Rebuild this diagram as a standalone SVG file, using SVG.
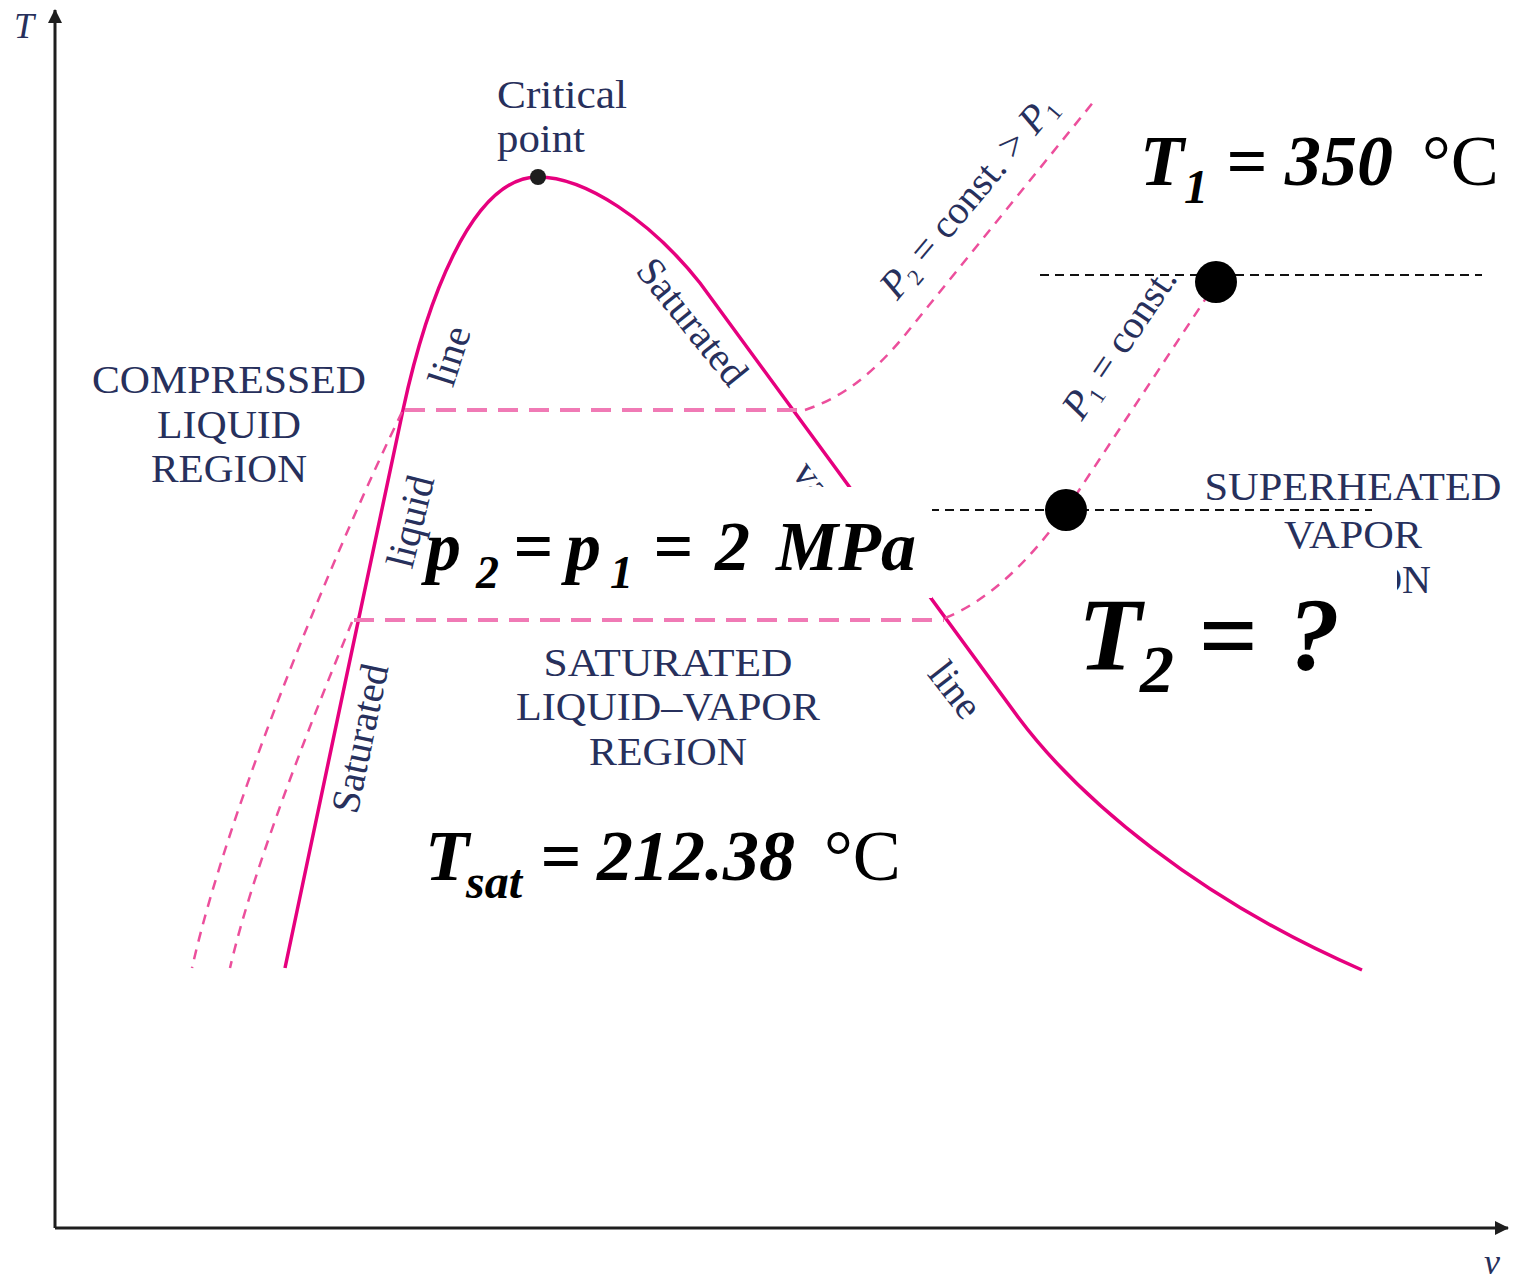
<svg xmlns="http://www.w3.org/2000/svg" width="1513" height="1282" viewBox="0 0 1513 1282">
<defs>
<style>
.ax{stroke:#1e1e1e;stroke-width:3;fill:none}
.sat{stroke:#e6007e;stroke-width:3.5;fill:none}
.isoh{stroke:#f07ab5;stroke-width:4;fill:none;stroke-dasharray:20 11}
.iso{stroke:#ec4f9c;stroke-width:2.5;fill:none;stroke-dasharray:10 8}
.bd{stroke:#111;stroke-width:2;fill:none;stroke-dasharray:9 6}
.lbl{font-family:"Liberation Serif","Times New Roman",serif;font-size:40px;fill:#27305c}
.big{font-family:"Liberation Serif","Times New Roman",serif;font-weight:bold;font-style:italic;fill:#000}
.deg{font-weight:normal;font-style:normal}
</style>
<marker id="arr" viewBox="0 0 14 14" refX="13" refY="7" markerWidth="14" markerHeight="14" markerUnits="userSpaceOnUse" orient="auto">
<path d="M0,0 L14,7 L0,14 Z" fill="#1e1e1e"/>
</marker>
<clipPath id="clipOn"><rect x="1396" y="540" width="117" height="80"/></clipPath>
</defs>
<rect width="1513" height="1282" fill="#fff"/>

<g id="axes">
<line class="ax" x1="55" y1="1228" x2="55" y2="10" marker-end="url(#arr)"/>
<line class="ax" x1="55" y1="1228" x2="1508" y2="1228" marker-end="url(#arr)"/>
<text x="14" y="38" font-family="Liberation Serif, serif" font-style="italic" font-size="36" fill="#27305c">T</text>
<text x="1484" y="1274" font-family="Liberation Serif, serif" font-style="italic" font-size="36" fill="#27305c">v</text>
</g>

<g id="connectors">
<path id="saturation-dome" class="sat" d="M285,968 C310,850 375,540 403,410 C425,308 470,177 538,177 C585,177 650,220 700,283 L1018,717 C1080,800 1200,900 1362,970"/>
<line class="isoh" x1="405" y1="410" x2="803" y2="410"/>
<line class="isoh" x1="354" y1="620" x2="944" y2="620"/>
<path class="iso" d="M805,410 C850,395 880,365 905,335 L1095,100"/>
<path class="iso" d="M945,618 C990,600 1030,560 1066,510 L1216,283"/>
<path class="iso" d="M402,412 C340,540 230,800 192,968"/>
<path class="iso" d="M352,622 C320,700 255,860 230,968"/>
<line class="bd" x1="1040" y1="275" x2="1482" y2="275"/>
<line class="bd" x1="930" y1="510" x2="1372" y2="510"/>
</g>

<g id="critical-point">
<circle cx="538" cy="177" r="8" fill="#1e1e1e"/>
<text class="lbl" x="497" y="108" textLength="130" lengthAdjust="spacingAndGlyphs">Critical</text>
<text class="lbl" x="497" y="152" textLength="88" lengthAdjust="spacingAndGlyphs">point</text>
</g>

<g id="curve-labels">
<text class="lbl" text-anchor="middle" transform="translate(373,741) rotate(-78)">Saturated</text>
<text class="lbl" transform="translate(412,570) rotate(-76)">liquid</text>
<text class="lbl" text-anchor="middle" transform="translate(462,360) rotate(-72)">line</text>
<text class="lbl" text-anchor="middle" transform="translate(682,330) rotate(51)">Saturated</text>
<text class="lbl" transform="translate(791,473) rotate(55)">vapor</text>
<text class="lbl" text-anchor="middle" transform="translate(945,698) rotate(52)">line</text>
<text class="lbl" font-size="35" text-anchor="middle" transform="translate(978,205) rotate(-50)"><tspan font-style="italic">P</tspan><tspan font-size="23" dy="6">2</tspan><tspan dy="-6"> = const. &gt; </tspan><tspan font-style="italic">P</tspan><tspan font-size="23" dy="6">1</tspan></text>
<text class="lbl" font-size="35" text-anchor="middle" transform="translate(1130,350) rotate(-56)"><tspan font-style="italic">P</tspan><tspan font-size="23" dy="6">1</tspan><tspan dy="-6"> = const.</tspan></text>
</g>

<g id="region-labels">
<text class="lbl" font-size="41" x="229" y="393" text-anchor="middle" textLength="274" lengthAdjust="spacingAndGlyphs">COMPRESSED</text>
<text class="lbl" font-size="41" x="229" y="438" text-anchor="middle" textLength="144" lengthAdjust="spacingAndGlyphs">LIQUID</text>
<text class="lbl" font-size="41" x="229" y="482" text-anchor="middle" textLength="156" lengthAdjust="spacingAndGlyphs">REGION</text>
<text class="lbl" font-size="41" x="668" y="676" text-anchor="middle" textLength="249" lengthAdjust="spacingAndGlyphs">SATURATED</text>
<text class="lbl" font-size="41" x="668" y="720" text-anchor="middle" textLength="304" lengthAdjust="spacingAndGlyphs">LIQUID–VAPOR</text>
<text class="lbl" font-size="41" x="668" y="765" text-anchor="middle" textLength="158" lengthAdjust="spacingAndGlyphs">REGION</text>
<text class="lbl" font-size="41" x="1353" y="500" text-anchor="middle" textLength="297" lengthAdjust="spacingAndGlyphs">SUPERHEATED</text>
<text class="lbl" font-size="41" x="1353" y="548" text-anchor="middle" textLength="138" lengthAdjust="spacingAndGlyphs">VAPOR</text>
<text class="lbl" font-size="41" x="1431" y="593" text-anchor="end" clip-path="url(#clipOn)">ON</text>
</g>

<g id="state-1">
<circle cx="1216" cy="282" r="21" fill="#000"/>
<text class="big" font-size="72" y="185"><tspan x="1140">T</tspan><tspan font-size="48" dy="18">1</tspan><tspan x="1226" dy="-18">=</tspan><tspan x="1285">350</tspan><tspan class="deg" x="1422">°C</tspan></text>
</g>

<g id="state-2">
<circle cx="1066" cy="510" r="21" fill="#000"/>
<rect x="1072" y="556" width="325" height="150" fill="#fff"/>
<text class="big" font-size="104" y="670"><tspan x="1078">T</tspan><tspan font-size="68" x="1140" dy="22">2</tspan><tspan x="1198" dy="-22">=</tspan><tspan x="1288">?</tspan></text>
</g>

<g id="pressure-label">
<rect x="438" y="487" width="494" height="111" fill="#fff"/>
<text class="big" font-size="70" y="570"><tspan x="426">p</tspan><tspan font-size="46" x="476" dy="18">2</tspan><tspan x="513" dy="-18">=</tspan><tspan x="566">p</tspan><tspan font-size="46" x="610" dy="18">1</tspan><tspan x="653" dy="-18">=</tspan><tspan x="715">2</tspan><tspan x="776">MPa</tspan></text>
</g>

<g id="tsat-label">
<text class="big" font-size="72" y="880"><tspan x="425">T</tspan><tspan font-size="48" x="466" dy="18">sat</tspan><tspan x="540" dy="-18">=</tspan><tspan x="597">212.38</tspan><tspan class="deg" x="824">°C</tspan></text>
</g>
</svg>
